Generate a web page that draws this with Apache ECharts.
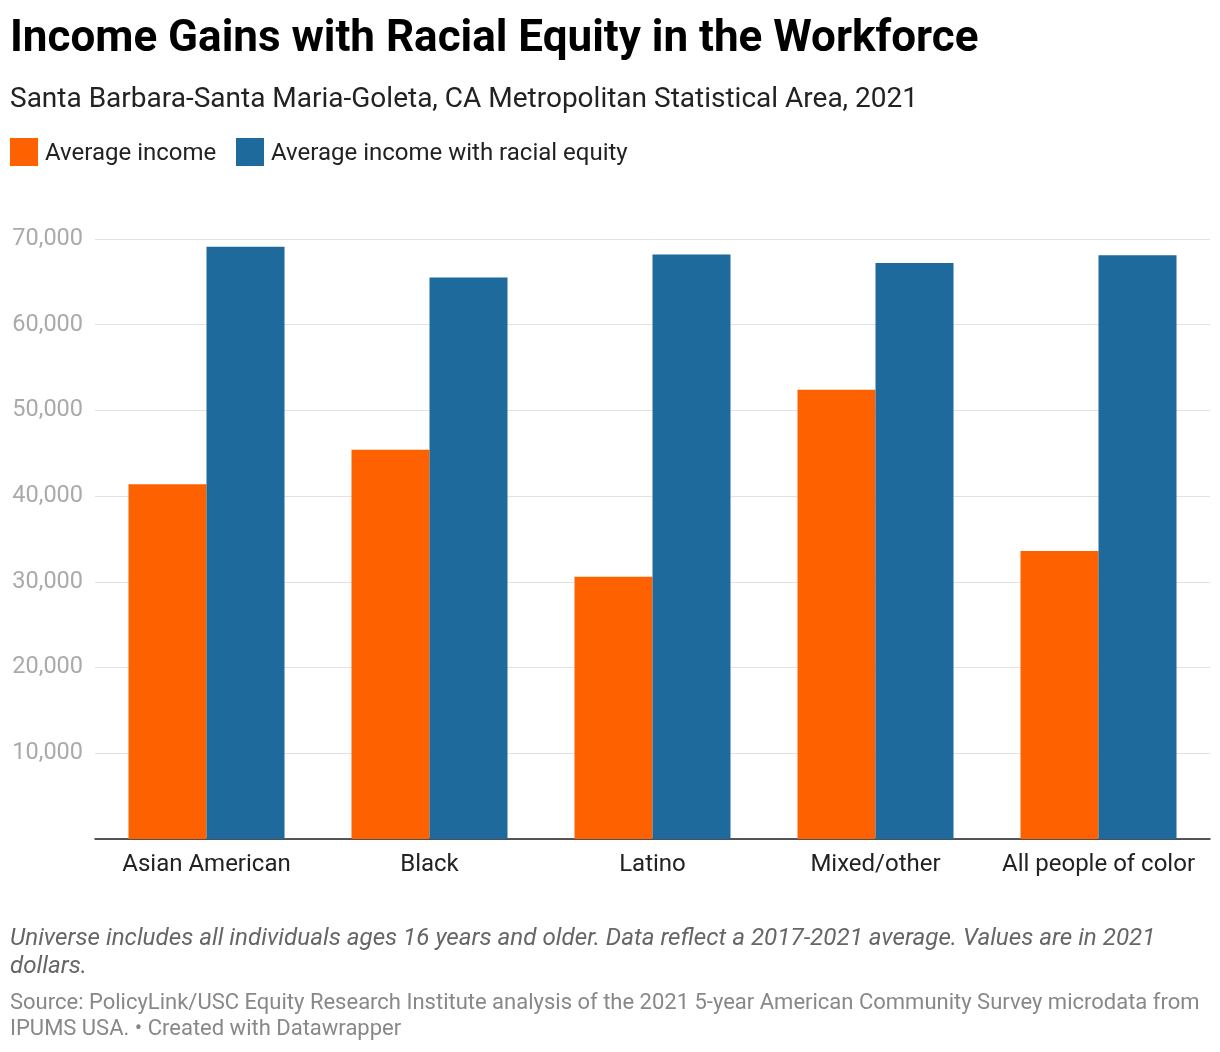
<!DOCTYPE html>
<html><head><meta charset="utf-8">
<script src="https://cdn.jsdelivr.net/npm/echarts@6/dist/echarts.min.js"></script>
<style>body{margin:0;background:#fff;font-family:Roboto,sans-serif}
#t{position:absolute;left:10px;top:10px;font-size:44px;font-weight:700;color:#000}
#s{position:absolute;left:10px;top:81px;font-size:28px;color:#222}
.lg{position:absolute;top:138px;font-size:24px;color:#222;display:flex;align-items:center}
.sw{width:28px;height:28px;margin-right:7px}
#n{position:absolute;left:10px;top:923px;width:1170px;font-size:24.2px;font-style:italic;color:#666;line-height:28px}
#src{position:absolute;left:10px;top:989px;width:1205px;font-size:22px;color:#888;line-height:26px}
#c{position:absolute;left:0;top:0;width:1220px;height:1052px}
</style></head><body>
<div id="c"></div>
<div id="t">Income Gains with Racial Equity in the Workforce</div>
<div id="s">Santa Barbara-Santa Maria-Goleta, CA Metropolitan Statistical Area, 2021</div>
<div class="lg" style="left:10px"><div class="sw" style="background:#fe6100"></div>Average income</div>
<div class="lg" style="left:236px"><div class="sw" style="background:#1f6a9c"></div>Average income with racial equity</div>
<div id="n">Universe includes all individuals ages 16 years and older. Data reflect a 2017-2021 average. Values are in 2021 dollars.</div>
<div id="src">Source: PolicyLink/USC Equity Research Institute analysis of the 2021 5-year American Community Survey microdata from IPUMS USA. • Created with Datawrapper</div>
<script>
const categories=["Asian American","Black","Latino","Mixed/other","All people of color"];
const averageIncome=[41400,45400,30600,52400,33600];
const equityIncome=[69100,65500,68200,67200,68100];
const ch=echarts.init(document.getElementById('c'));
ch.setOption({
 animation:false,
 grid:{left:95,right:10,top:239,bottom:213},
 xAxis:{type:'category',data:categories,axisLine:{lineStyle:{color:'#222',width:1.5}},axisTick:{show:false},
  axisLabel:{color:'#222',fontSize:24,fontFamily:'Roboto',margin:14,interval:0}},
 yAxis:{type:'value',min:0,max:70000,interval:10000,
  axisLabel:{color:'#aaa',fontSize:23.5,fontFamily:'Roboto',margin:12,
   formatter:v=>v===0?'':v.toLocaleString('en-US')},
  splitLine:{lineStyle:{color:'#e2e2e2'}}},
 series:[
  {type:'bar',data:averageIncome,barWidth:78,barGap:'0%',itemStyle:{color:'#fe6100'}},
  {type:'bar',data:equityIncome,barWidth:78,itemStyle:{color:'#1f6a9c'}}
 ]
});
</script></body></html>
